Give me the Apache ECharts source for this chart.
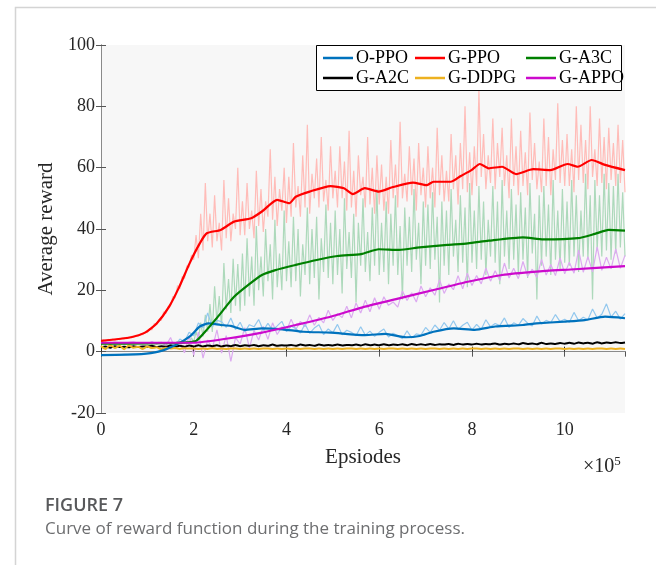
<!DOCTYPE html>
<html>
<head>
<meta charset="utf-8">
<script src="https://cdn.jsdelivr.net/npm/echarts@6/dist/echarts.min.js"></script>
<style>
  html, body { margin: 0; padding: 0; background: #fff; }
  #chart { width: 656px; height: 565px; }
</style>
</head>
<body>
<div id="chart"></div>
<script>
// episodes in units of 1e5; dense raw traces every FINE, lighter ones every COARSE
const FINE = 0.05;
const COARSE = 0.1;
const seriesNames = ['O-PPO', 'G-PPO', 'G-A3C', 'G-A2C', 'G-DDPG', 'G-APPO'];
const yTicks = [-20, 0, 20, 40, 60, 80, 100];

// raw (unsmoothed) rewards
const rawGPPO = [
  3.2, 3.9, 3.4, 4.0, 3.6, 4.1, 3.7, 4.3, 3.9, 4.4, 4.1, 4.7, 4.3, 5.0, 4.6, 5.3, 5.0, 5.9, 5.5, 6.4, 6.2,
  7.6, 7.1, 9.2, 8.8, 10.5, 10.2, 13.0, 12.4, 14.8, 15.0, 18.0, 17.5, 21.5, 20.5, 24.5, 23.8, 28.0, 27.5, 31.5, 30.0,
  38.0, 30.5, 45.0, 33.0, 55.0, 36.0,
  45, 34, 51, 36, 42, 33, 56, 37, 50, 36, 45, 40, 60, 38,
  49, 38, 55, 40, 46, 37, 59, 41, 53, 39, 49, 44, 66, 43, 57, 41, 53, 46, 60, 42,
  57, 44, 68, 47, 54, 44, 64, 47, 74, 45, 58, 50, 63, 47, 70, 49, 56, 46, 67, 50,
  59, 47, 67, 50, 62, 46, 72, 47, 59, 44, 64, 51, 57, 47, 70, 48, 60, 45, 64, 48,
  61, 46, 57, 45, 69, 50, 61, 47, 75, 50, 58, 49, 67, 51, 63, 46, 68, 51, 60, 47,
  67, 50, 60, 47, 73, 51, 64, 49, 59, 49, 71, 53, 64, 48, 68, 53, 80, 52, 65, 51,
  67, 54, 85, 57, 71, 53, 64, 55, 76, 53, 68, 57, 73, 54, 64, 50, 76, 54, 67, 51,
  72, 54, 65, 51, 78, 56, 68, 53, 62, 52, 76, 54, 70, 51, 66, 56, 81, 55, 69, 54,
  71, 54, 66, 52, 80, 56, 74, 55, 69, 53, 80, 57, 66, 54, 76, 55, 70, 53, 73, 56,
  68, 54, 74, 55, 69, 52
];
const rawGA3C = [
  2.5, 2.9, 2.4, 2.8, 2.6, 3.0, 2.5, 2.9, 2.6, 2.8, 2.5, 3.0, 2.6, 2.9, 2.5, 2.8, 2.7, 3.0, 2.6, 2.9,
  2.6, 3.0, 2.7, 2.9, 2.6, 3.1, 2.7, 3.0, 2.6, 3.2, 2.8, 3.1, 2.7, 3.3, 2.9, 3.4, 3.0,
  3.4, 2.8, 4.5, 3.2, 6.5, 4.0, 9.5, 5.0, 12.0, 6.5,
  15.5, 6.4, 21.3, 9.2, 18.1, 8.0, 28.9, 13.8, 23.7, 12.6, 30.3, 15.0, 28.6, 13.2,
  32, 15, 37, 18, 31, 15, 41, 20, 31, 18, 40, 23, 35, 17, 43, 21, 32, 20, 46, 23,
  36, 21, 44, 23, 40, 18, 35, 25, 47, 22, 40, 24, 44, 17, 37, 26, 48, 24, 42, 22,
  46, 25, 40, 19, 50, 27, 39, 24, 45, 16, 42, 28, 50, 26, 39, 23, 47, 28, 53, 25,
  42, 26, 49, 22, 45, 28, 51, 25, 41, 17, 47, 28, 44, 26, 53, 30, 42, 22, 49, 28,
  48, 27, 52, 30, 44, 16, 49, 28, 46, 25, 53, 31, 43, 26, 51, 29, 47, 21, 55, 29,
  46, 27, 54, 30, 49, 25, 43, 31, 54, 29, 49, 22, 56, 31, 46, 27, 53, 30, 48, 25,
  52, 30, 47, 24, 55, 32, 45, 17, 51, 28, 54, 31, 48, 25, 56, 30, 46, 27, 53, 29,
  49, 28, 56, 31, 51, 26, 46, 31, 58, 30, 51, 17, 56, 33, 51, 31, 58, 33, 55, 30,
  54, 32, 58, 34, 52, 31
];
const rawGAPPO = [
  2.7, 3.0, 2.8, 3.1, 2.9, 2.7, 3.0, 3.2, 2.8, 2.9, 2.6, 3.3, 2.4, 3.1, 1.9, 4.6, 0.8, 3.4, -0.4, 5.2,
  -1.2, 6.4, -2.1, 3.8, 1.0, 7.1, -0.5, 5.2, -3.2, 4.6, 2.5, 7.8, 1.2, 6.9, 3.8, 8.2, 4.0, 9.4, 5.6, 8.1,
  6.8, 10.6, 7.2, 9.9, 8.1, 12.0, 8.6, 11.2, 9.4, 13.5, 10.2, 12.4, 11.1, 14.8, 11.0, 15.9, 12.6, 16.8, 13.0, 17.6,
  13.8, 17.9, 15.1, 16.2, 14.5, 19.8, 16.7, 19.2, 16.2, 21.4, 17.9, 20.8, 18.4, 23.5, 19.0, 22.1, 20.2, 24.8, 20.5, 25.6,
  21.6, 24.8, 22.1, 27.3, 23.0, 26.4, 23.2, 28.9, 24.0, 27.2, 23.8, 29.4, 24.6, 26.9, 24.2, 30.1, 25.0, 28.4, 24.8, 30.6,
  25.4, 29.2, 25.6, 33.1, 25.9, 31.0, 26.0, 34.2, 26.5, 30.8, 27.0, 33.5, 27.2, 31.4
];
const rawOPPO = [
  -1.1, -1.0, -1.1, -1.0, -1.0, -0.9, -0.9, -0.8, -0.8, -0.8, -0.6, -0.4, -0.1, 0.6, 1.2, 2.4, 2.0, 4.1, 3.2, 6.3,
  5.2, 9.4, 7.8, 12.6, 8.1, 10.2, 9.8, 7.9, 11.0, 7.2, 9.6, 6.4, 8.8, 8.1, 10.5, 6.9, 9.2, 7.0, 8.4, 9.9,
  6.5, 8.3, 7.6, 6.1, 9.0, 6.0, 7.7, 8.8, 5.6, 7.4, 6.2, 8.9, 5.5, 7.0, 6.3, 5.2, 8.1, 5.4, 6.7, 5.0,
  6.3, 7.4, 4.8, 6.0, 5.2, 4.2, 6.8, 4.5, 5.8, 5.4, 7.9, 6.3, 8.7, 7.0, 9.5, 7.4, 10.1, 7.2, 8.6, 9.6,
  7.0, 8.9, 7.3, 10.4, 8.1, 9.2, 8.5, 11.0, 7.9, 9.4, 8.6, 10.8, 9.3, 8.4, 11.6, 9.0, 10.2, 9.5, 12.1, 9.8,
  10.6, 9.6, 12.8, 10.1, 11.2, 10.4, 13.9, 11.0, 12.2, 15.6, 11.3, 13.2, 10.6, 12.4
];
const rawGA2C = [
  1.4, 1.7, 1.3, 1.8, 1.5, 1.6, 1.4, 1.8, 1.5, 1.7, 1.6, 1.9, 1.5, 1.8, 1.6, 2.0, 1.7, 1.9, 1.6, 2.0,
  1.7, 2.1, 1.7, 2.0, 1.8, 2.1, 1.7, 2.0, 1.8, 2.2, 1.8, 2.1, 1.9, 2.2, 1.8, 2.1, 1.9, 2.3, 1.9, 2.1,
  2.0, 2.2, 1.9, 2.3, 2.0, 2.2, 1.9, 2.3, 2.0, 2.2, 2.0, 2.3, 2.0, 2.2, 2.1, 2.3, 2.0, 2.4, 2.1, 2.3,
  2.1, 2.4, 2.1, 2.3, 2.2, 2.4, 2.1, 2.5, 2.2, 2.4, 2.2, 2.5, 2.2, 2.4, 2.3, 2.5, 2.2, 2.6, 2.3, 2.5,
  2.3, 2.6, 2.3, 2.5, 2.4, 2.7, 2.3, 2.6, 2.4, 2.7, 2.4, 2.8, 2.5, 2.7, 2.4, 2.9, 2.5, 2.7, 2.5, 2.8,
  2.6, 2.9, 2.6, 3.0, 2.7, 2.9, 2.6, 3.1, 2.7, 3.0, 2.8, 3.1, 2.8, 3.0
];
const rawGDDPG = [
  1.8, 0.9, 2.2, 1.2, 1.9, 0.8, 2.0, 1.3, 1.6, 0.9, 1.7, 1.2, 1.4, 0.8, 1.3, 1.0, 1.2, 0.9, 1.1, 1.0,
  1.0, 0.9, 1.0, 0.9, 1.1, 0.9, 1.0, 0.9, 1.0, 1.0, 0.9, 1.0, 0.9, 1.0, 0.9, 1.0, 1.0, 0.9, 1.0, 0.9,
  1.0, 0.9, 1.0, 0.9, 1.0, 1.0, 0.9, 1.0, 0.9, 1.0, 0.9, 1.0, 0.9, 1.0, 1.0, 0.9, 1.0, 0.9, 1.0, 0.9,
  1.0, 0.9, 1.0, 1.0, 0.9, 1.0, 0.9, 1.0, 0.9, 1.0, 0.9, 1.0, 1.0, 0.9, 1.0, 0.9, 1.0, 0.9, 1.0, 0.9,
  1.0, 1.0, 0.9, 1.0, 0.9, 1.0, 0.9, 1.0, 0.9, 1.0, 1.0, 0.9, 1.0, 0.9, 1.0, 0.9, 1.0, 0.9, 1.0, 1.0,
  0.9, 1.0, 0.9, 1.0, 0.9, 1.0, 0.9, 1.0, 1.0, 0.9, 1.0, 0.9, 1.0, 0.9
];

// smoothed curves, [episodes (1e5), reward]
const smoothOPPO = [
  [0, -1.1], [0.87, -0.8], [1.24, 0], [1.61, 2.2], [1.91, 4.9], [2.13, 8.2], [2.32, 9.2],
  [2.58, 8.7], [2.8, 8.4], [3.1, 7.1], [3.47, 7.6], [3.91, 7.3], [4.36, 6.5], [4.95, 6.2],
  [5.69, 5.4], [6.13, 5.8], [6.58, 4.7], [6.87, 5.1], [7.17, 6.5], [7.61, 7.6], [8.06, 7.1],
  [8.5, 8.2], [9.1, 8.7], [9.39, 9.2], [9.99, 9.8], [10.43, 10.3], [10.87, 11.4], [11.3, 10.9]
];
const smoothGPPO = [
  [0, 3.5], [0.65, 4.7], [0.95, 6.2], [1.2, 9.2], [1.47, 14.7], [1.69, 21.2], [1.91, 28.8],
  [2.13, 35.3], [2.28, 38.6], [2.58, 39.7], [2.87, 42.4], [3.24, 43.5], [3.47, 45.7],
  [3.8, 49.5], [4.06, 48.4], [4.2, 50.5], [4.5, 52.2], [4.95, 54], [5.24, 53.3], [5.43, 51.4],
  [5.69, 53.3], [5.99, 52.2], [6.28, 53.6], [6.73, 55.1], [7.02, 54.3], [7.17, 55.4],
  [7.54, 55.4], [7.76, 57.3], [7.99, 59.2], [8.17, 61.2], [8.36, 59.8], [8.65, 60.3],
  [8.95, 57.9], [9.32, 59.5], [9.69, 59.2], [10.06, 61.2], [10.28, 60.3], [10.58, 62.5],
  [10.87, 60.9], [11.3, 59.2]
];
const smoothGA3C = [
  [0, 2.6], [1.0, 2.7], [1.6, 2.8], [1.85, 3.0], [2.06, 3.6], [2.28, 7.1], [2.58, 12.5],
  [2.87, 17.9], [3.17, 21.7], [3.47, 25], [3.76, 26.6], [4.2, 28.3], [4.65, 29.9],
  [5.1, 31.2], [5.61, 31.8], [5.99, 33.4], [6.43, 33.2], [6.87, 34], [7.47, 34.8],
  [7.91, 35.3], [8.36, 36.2], [9.1, 37.3], [9.54, 36.6], [10.28, 37], [10.65, 38.4],
  [10.95, 39.7], [11.3, 39.5]
];
const smoothGAPPO = [
  [0, 2.9], [1.99, 2.9], [2.73, 4.3], [3.47, 6.2], [4.2, 8.7], [4.95, 11.4], [5.69, 14.7],
  [6.43, 17.4], [7.17, 20.1], [7.91, 22.8], [8.65, 25], [9.39, 26.1], [10.13, 26.8],
  [11.3, 27.9]
];

const FONT = 'Liberation Serif';
const TXT = '#262626';

function toPairs(arr, step) {
  return arr.map((v, i) => [+(i * step).toFixed(2), v]);
}

function rawLine(data, step, color) {
  return {
    type: 'line',
    data: toPairs(data, step),
    symbol: 'none',
    silent: true,
    lineStyle: { color: color, width: 1.2 },
    z: 1
  };
}

function mainLine(name, data, color, width) {
  return {
    name: name,
    type: 'line',
    data: data,
    symbol: 'none',
    smooth: 0.2,
    lineStyle: { color: color, width: width || 2.2 },
    itemStyle: { color: color },
    z: 2
  };
}

function legendCol(left, names) {
  return {
    orient: 'vertical',
    left: left,
    top: 44,
    data: names,
    icon: 'rect',
    itemWidth: 30,
    itemHeight: 2.5,
    itemGap: 2,
    textStyle: { fontFamily: FONT, fontSize: 18, color: '#000', padding: [0, 0, 0, -2] },
    z: 5
  };
}

let chart = echarts.init(document.getElementById('chart'));
chart.setOption({
  backgroundColor: '#fff',
  animation: false,
  grid: {
    left: 101, top: 45, right: 31, bottom: 152,
    show: true, backgroundColor: '#f7f7f7', borderWidth: 0
  },
  legend: [
    legendCol(318, [seriesNames[0], seriesNames[3]]),
    legendCol(410, [seriesNames[1], seriesNames[4]]),
    legendCol(521, [seriesNames[2], seriesNames[5]])
  ],
  xAxis: [
    {
      type: 'value', min: 0, max: 11.3, interval: 2,
      name: 'Epsiodes', nameLocation: 'middle', nameGap: 34,
      nameTextStyle: { fontFamily: FONT, fontSize: 21, color: TXT },
      axisLine: { lineStyle: { color: '#262626', width: 1 } },
      axisTick: { inside: true, length: 5, lineStyle: { color: '#262626' } },
      axisLabel: { fontFamily: FONT, fontSize: 18, color: TXT, margin: 8, showMaxLabel: false },
      splitLine: { show: false }
    },
    {
      type: 'value', min: 0, max: 11.3, interval: 2, position: 'top',
      axisLine: { show: true, lineStyle: { color: '#8a8a8a', width: 1 } },
      axisTick: { inside: true, length: 5, lineStyle: { color: '#555' } },
      axisLabel: { show: false },
      splitLine: { show: false }
    }
  ],
  yAxis: [
    {
      type: 'value', min: yTicks[0], max: yTicks[yTicks.length - 1], interval: 20,
      name: 'Average reward', nameLocation: 'middle', nameGap: 44,
      nameTextStyle: { fontFamily: FONT, fontSize: 21, color: TXT },
      axisLine: { show: true, lineStyle: { color: '#8a8a8a', width: 1 } },
      axisTick: { show: true, inside: true, length: 5, lineStyle: { color: '#555' } },
      axisLabel: { fontFamily: FONT, fontSize: 18, color: TXT, margin: 6 },
      splitLine: { show: false }
    },
    {
      type: 'value', min: yTicks[0], max: yTicks[yTicks.length - 1], interval: 20, position: 'right',
      axisLine: { show: true, lineStyle: { color: '#8a8a8a', width: 1 } },
      axisTick: { show: true, inside: true, length: 5, lineStyle: { color: '#555' } },
      axisLabel: { show: false },
      splitLine: { show: false }
    }
  ],
  graphic: [
    {
      type: 'rect', left: 13, top: 5, z: -10,
      shape: { width: 680, height: 600 },
      style: { fill: 'none', stroke: '#d4d4d4', lineWidth: 1.5 }
    },
    {
      type: 'rect', left: 316, top: 45, z: 4,
      shape: { width: 305, height: 45 },
      style: { fill: '#fff', stroke: '#000', lineWidth: 1 }
    },
    {
      type: 'text', left: 583, top: 455, z: 5,
      style: {
        text: '×10{s|5}',
        font: '20px "Liberation Serif"',
        fill: TXT,
        rich: { s: { fontFamily: FONT, fontSize: 13, verticalAlign: 'top', padding: [0, 0, 10, 0], fill: TXT } }
      }
    },
    {
      type: 'text', left: 45, top: 497, z: 5,
      style: { text: 'FIGURE 7', font: '600 18px "Open Sans"', fill: '#58595b' }
    },
    {
      type: 'text', left: 45, top: 521, z: 5,
      style: { text: 'Curve of reward function during the training process.', font: '17px "Open Sans"', fill: '#6d6e70' }
    }
  ],
  series: [
    rawLine(rawGPPO, FINE, '#ffbcb8'),
    rawLine(rawGA3C, FINE, '#add9bb'),
    rawLine(rawGAPPO, COARSE, '#dcaaf0'),
    rawLine(rawOPPO, COARSE, '#93c8ee'),
    mainLine(seriesNames[3], toPairs(rawGA2C, COARSE), '#000000', 2),
    mainLine(seriesNames[4], toPairs(rawGDDPG, COARSE), '#edb120', 2),
    mainLine(seriesNames[0], smoothOPPO, '#0072bd'),
    mainLine(seriesNames[2], smoothGA3C, '#008000'),
    mainLine(seriesNames[5], smoothGAPPO, '#cc0acc'),
    mainLine(seriesNames[1], smoothGPPO, '#ff0000')
  ]
});
</script>
</body>
</html>
